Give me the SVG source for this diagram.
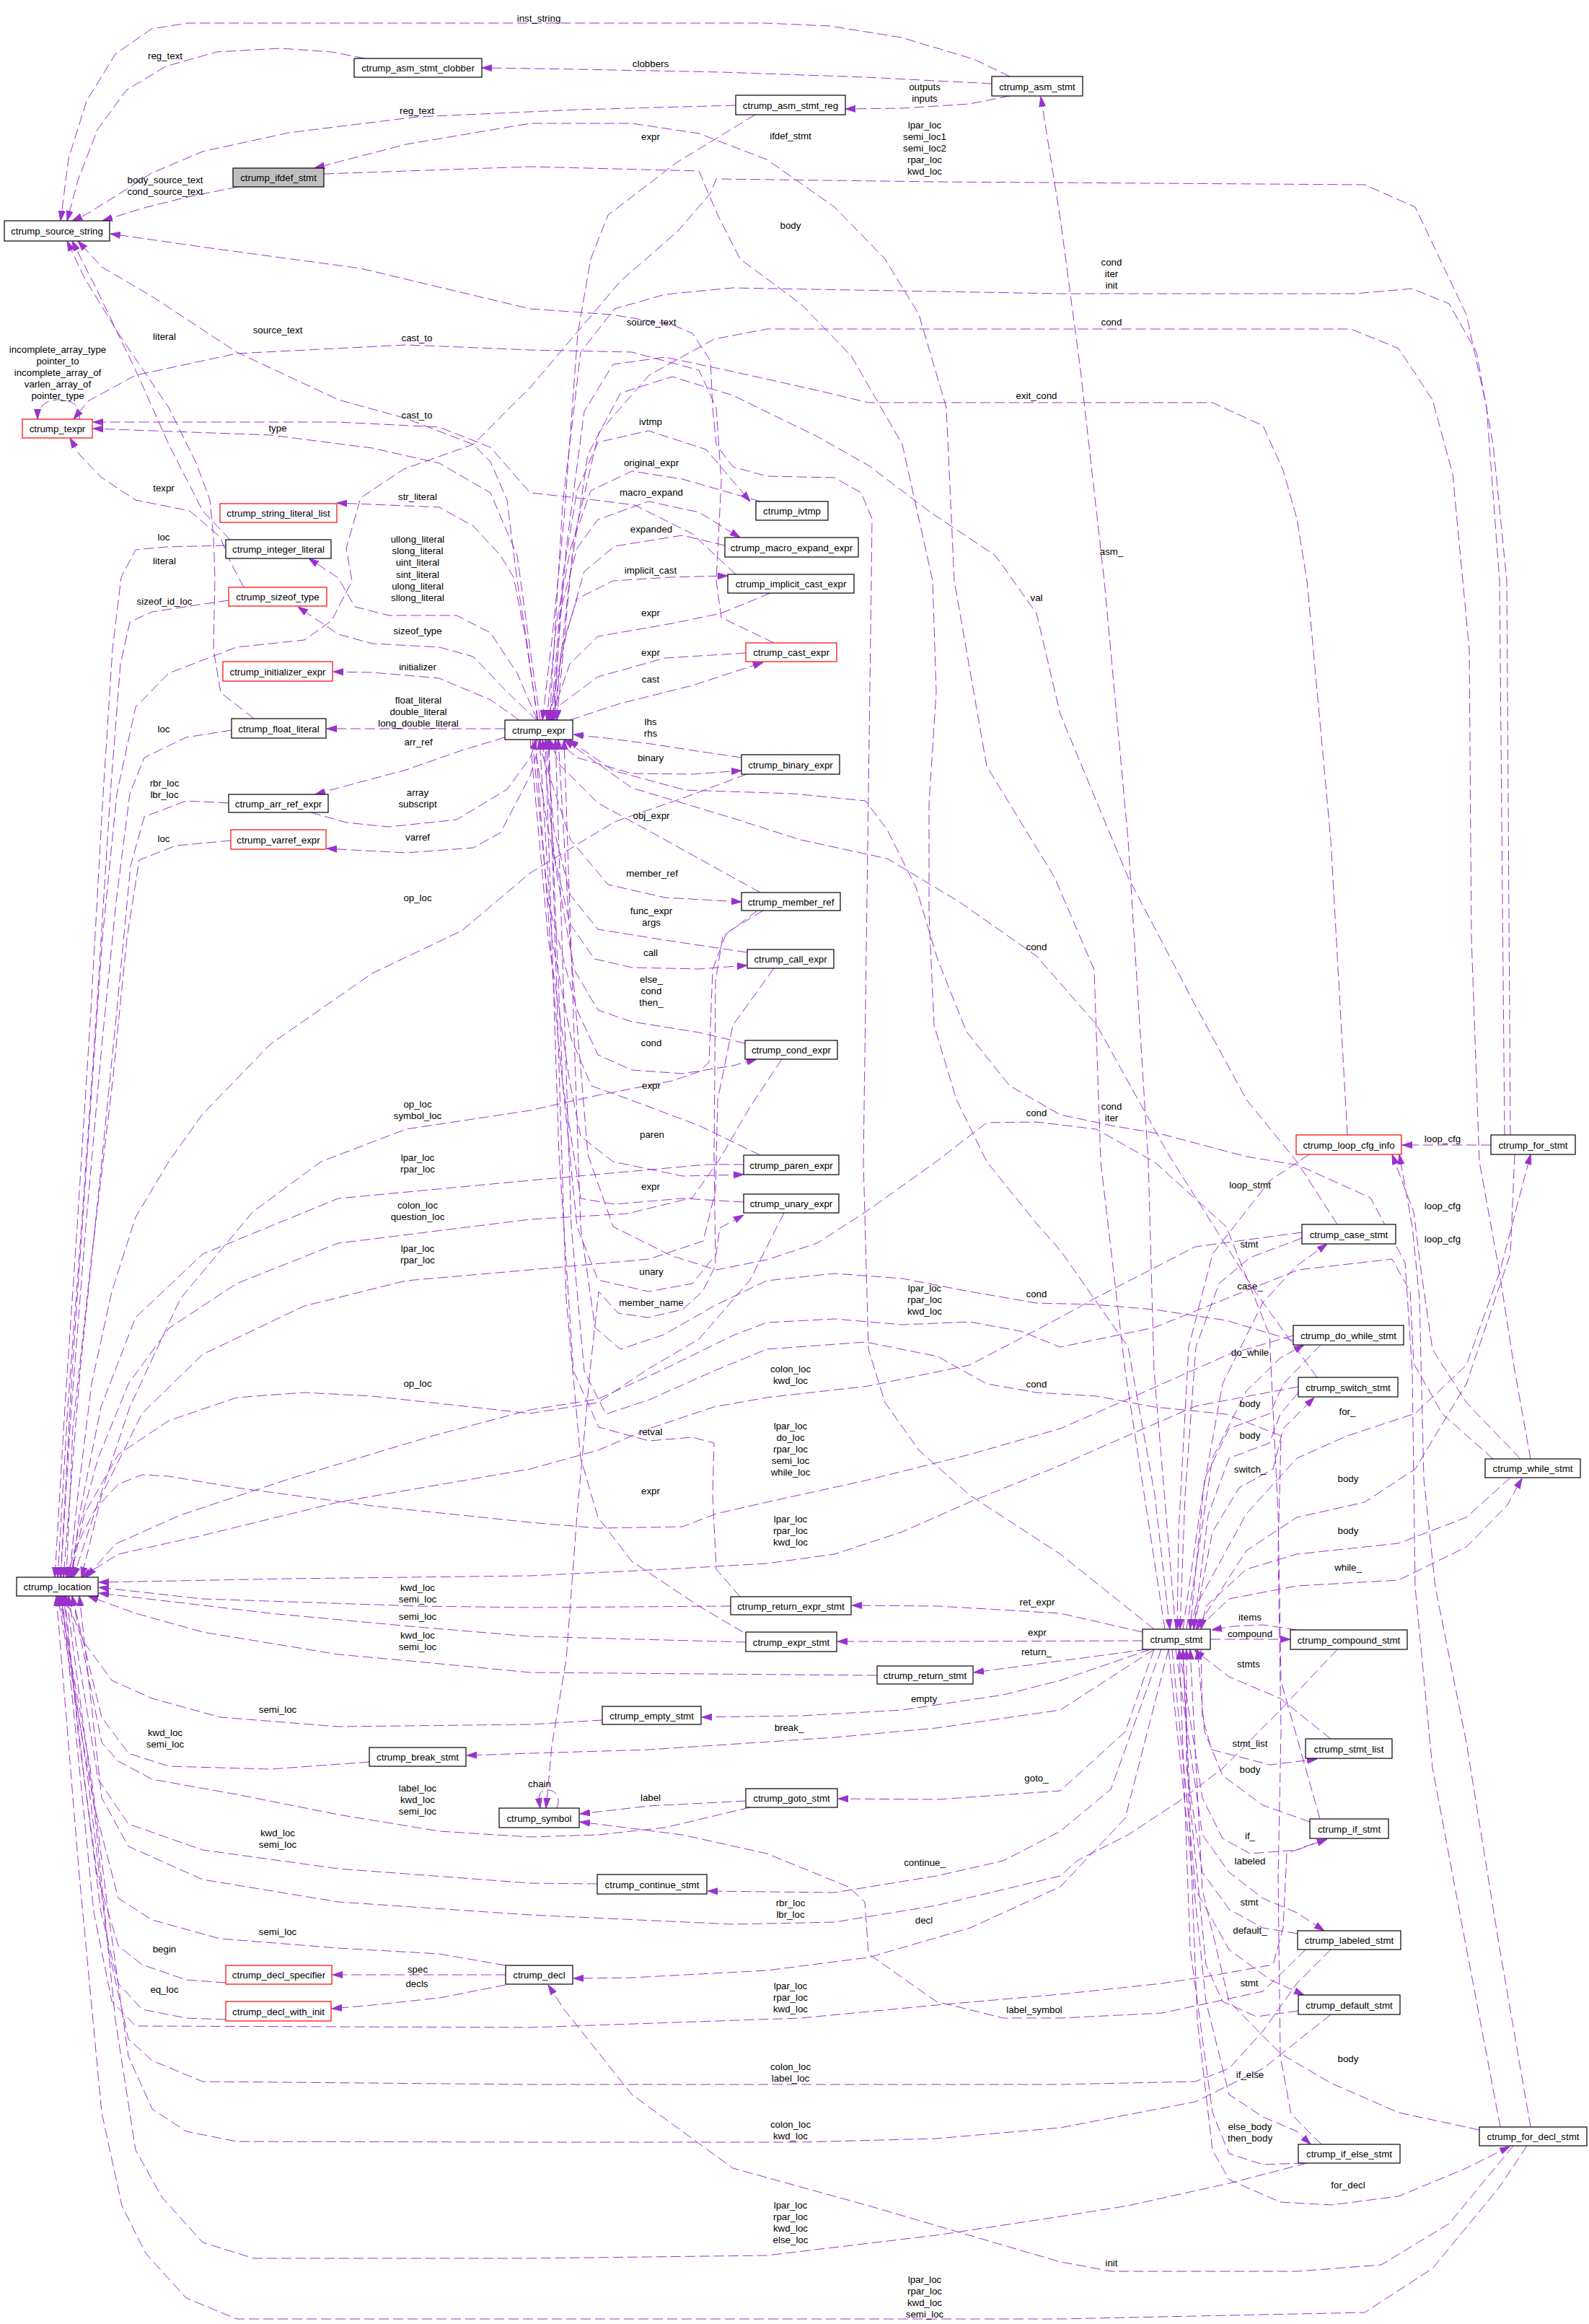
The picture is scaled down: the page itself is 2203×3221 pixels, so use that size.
<svg xmlns="http://www.w3.org/2000/svg" width="2203" height="3221" viewBox="0 0 2203 3221">
<style>
text{font-family:"Liberation Sans",Arial,Helvetica,sans-serif;font-size:13.3px;fill:#000;text-anchor:middle}
.node rect{fill:#fff;stroke:#000;stroke-width:1.2}
.node.red rect{stroke:#f00}
.node.cur rect{fill:#bfbfbf}
.edge path{fill:none;stroke:#9a32cd;stroke-width:1;stroke-dasharray:14,6;stroke-linejoin:round;marker-end:url(#ah)}
</style>
<defs>
<marker id="ah" markerWidth="14" markerHeight="10" refX="14" refY="5" orient="auto" markerUnits="userSpaceOnUse"><path d="M0,0.5 L14,5 L0,9.5 z" fill="#9a32cd" stroke="#9a32cd" stroke-width="1"/></marker>
</defs>
<rect x="0" y="0" width="2203" height="3221" fill="#fff"/>
<g id="edges">
<g class="edge" id="e_asm_inst_string"><path d="M1400,106 L1350,82 L1250,52 L1150,36 L1060,32 L260,32 L210,40 L160,75 L120,140 L95,220 L84,306"/><text x="747" y="30">inst_string</text></g>
<g class="edge" id="e_asm_clobbers"><path d="M1375,116 L1200,107 L1000,100 L800,96 L668,94"/><text x="902" y="93">clobbers</text></g>
<g class="edge" id="e_asm_reg"><path d="M1400,133 L1344,144 L1251,150 L1172,151"/><text x="1282" y="125">outputs<tspan x="1282" dy="15.7">inputs</tspan></text></g>
<g class="edge" id="e_reg_regtext"><path d="M1020,146 L800,152 L578,162 L400,184 L281,210 L210,240 L160,272 L118,298 L100,306"/><text x="578" y="158">reg_text</text></g>
<g class="edge" id="e_clobber_regtext"><path d="M506,81 L460,72 L389,67 L300,72 L230,92 L175,125 L135,180 L108,250 L93,306"/><text x="229" y="82">reg_text</text></g>
<g class="edge" id="e_ifdef_src"><path d="M330,259 L260,273 L200,288 L142,306"/><text x="229" y="254">body_source_text<tspan x="229" dy="15.7">cond_source_text</tspan></text></g>
<g class="edge" id="e_expr_src"><path d="M745,998 L732,900 L717,805 L703,693 L680,640 L656,616 L563,580 L469,554 L328,488 L211,411 L141,370 L108,334"/><text x="385" y="462">source_text</text></g>
<g class="edge" id="e_float_literal_src"><path d="M352,996 L306,960 L296,900 L298,800 L296,744 L291,693 L272,642 L234,565 L164,462 L117,385 L93,334"/><text x="228" y="782">literal</text></g>
<g class="edge" id="e_int_literal_src"><path d="M319,748 L281,708 L234,616 L188,513 L131,395 L100,334"/><text x="228" y="471">literal</text></g>
<g class="edge" id="e_sizeof_texpr"><path d="M338,814 L320,780 L305,744 L263,708 L188,693 L141,662 L110,630 L97,607"/><text x="227" y="681">texpr</text></g>
<g class="edge" id="e_cast_castto"><path d="M1073,891 L1000,856 L993,805 L1000,667 L993,565 L969,513 L876,488 L735,485 L563,478 L328,490 L188,520 L122,556 L102,581"/><text x="578" y="473">cast_to</text></g>
<g class="edge" id="e_icast_castto"><path d="M1020,796 L960,740 L880,700 L800,690 L735,683 L680,620 L609,592 L469,585 L300,585 L129,585"/><text x="578" y="580">cast_to</text></g>
<g class="edge" id="e_expr_type"><path d="M749,998 L735,900 L717,770 L680,683 L609,642 L516,621 L375,603 L129,594"/><text x="385" y="598">type</text></g>
<g class="edge" id="e_texpr_self"><path d="M110,581 C113,560 96,553 79,554 C61,555 52,566 52,581"/><text x="80" y="489">incomplete_array_type<tspan x="80" dy="15.9">pointer_to</tspan><tspan x="80" dy="15.9">incomplete_array_of</tspan><tspan x="80" dy="15.9">varlen_array_of</tspan><tspan x="80" dy="15.9">pointer_type</tspan></text></g>
<g class="edge" id="e_expr_strlit"><path d="M746,998 L728,880 L712,800 L694,770 L656,729 L609,703 L467,697"/><text x="579" y="693">str_literal</text></g>
<g class="edge" id="e_expr_intlit"><path d="M745,998 L717,933 L680,877 L633,853 L539,853 L492,841 L469,801 L428,774"/><text x="579" y="752">ullong_literal<tspan x="579" dy="16.2">slong_literal</tspan><tspan x="579" dy="16.2">uint_literal</tspan><tspan x="579" dy="16.2">sint_literal</tspan><tspan x="579" dy="16.2">ulong_literal</tspan><tspan x="579" dy="16.2">sllong_literal</tspan></text></g>
<g class="edge" id="e_intlit_loc"><path d="M313,756 L230,758 L188,762 L168,800 L156,900 L143,1100 L126,1400 L107,1700 L90,1950 L76,2186"/><text x="227" y="749">loc</text></g>
<g class="edge" id="e_sizeof_loc"><path d="M317,832 L250,842 L211,848 L180,862 L167,920 L153,1100 L134,1400 L113,1700 L94,1950 L80,2186"/><text x="228" y="838">sizeof_id_loc</text></g>
<g class="edge" id="e_expr_sizeof"><path d="M744,998 L703,959 L656,910 L609,897 L516,892 L469,879 L413,841"/><text x="579" y="879">sizeof_type</text></g>
<g class="edge" id="e_expr_init"><path d="M720,998 L680,970 L609,940 L516,932 L462,931"/><text x="579" y="929">initializer</text></g>
<g class="edge" id="e_expr_float"><path d="M700,1010 L453,1010"/><text x="580" y="975">float_literal<tspan x="580" dy="16">double_literal</tspan><tspan x="580" dy="16">long_double_literal</tspan></text></g>
<g class="edge" id="e_float_loc"><path d="M321,1012 L258,1022 L200,1050 L180,1100 L161,1250 L141,1450 L119,1700 L99,1950 L84,2186"/><text x="227" y="1015">loc</text></g>
<g class="edge" id="e_expr_arrref"><path d="M700,1022 L640,1040 L563,1067 L469,1092 L437,1101"/><text x="580" y="1033">arr_ref</text></g>
<g class="edge" id="e_arrref_expr"><path d="M431,1126 L480,1140 L539,1146 L633,1136 L703,1094 L735,1050 L744,1025"/><text x="579" y="1103">array<tspan x="579" dy="15.7">subscript</tspan></text></g>
<g class="edge" id="e_arrref_loc"><path d="M317,1113 L258,1110 L200,1132 L181,1200 L162,1400 L137,1650 L111,1900 L88,2186"/><text x="228" y="1090">rbr_loc<tspan x="228" dy="15.7">lbr_loc</tspan></text></g>
<g class="edge" id="e_expr_varref"><path d="M750,1025 L735,1075 L694,1154 L656,1175 L563,1182 L453,1176"/><text x="579" y="1165">varref</text></g>
<g class="edge" id="e_varref_loc"><path d="M320,1165 L244,1172 L193,1192 L176,1300 L156,1500 L126,1750 L101,1980 L92,2186"/><text x="227" y="1167">loc</text></g>
<g class="edge" id="e_binary_expr"><path d="M1028,1050 L960,1040 L902,1031 L840,1023 L795,1018"/><text x="902" y="1005">lhs<tspan x="902" dy="15.7">rhs</tspan></text></g>
<g class="edge" id="e_expr_binary"><path d="M770,1025 L800,1050 L876,1072 L960,1073 L1028,1068"/><text x="902" y="1055">binary</text></g>
<g class="edge" id="e_binary_loc"><path d="M1035,1073 L950,1105 L852,1139 L735,1210 L640,1290 L516,1349 L375,1447 L281,1544 L234,1610 L188,1687 L155,1790 L127,1918 L108,2072 L96,2186"/><text x="579" y="1249">op_loc</text></g>
<g class="edge" id="e_cast_expr"><path d="M1034,905 L922,912 L829,938 L775,978 L764,998"/><text x="902" y="909">expr</text></g>
<g class="edge" id="e_expr_cast"><path d="M790,998 L860,975 L960,950 L1058,918"/><text x="902" y="946">cast</text></g>
<g class="edge" id="e_icast_expr"><path d="M1068,822 L1000,850 L932,864 L829,882 L790,920 L763,998"/><text x="902" y="854">expr</text></g>
<g class="edge" id="e_expr_icast"><path d="M770,998 L778,900 L800,830 L850,805 L930,800 L1009,798"/><text x="902" y="795">implicit_cast</text></g>
<g class="edge" id="e_expr_macro"><path d="M764,998 L776,850 L800,760 L829,720 L899,695 L969,710 L1026,745"/><text x="903" y="687">macro_expand</text></g>
<g class="edge" id="e_macro_expr"><path d="M1005,756 L946,742 L852,757 L810,792 L785,880 L760,998"/><text x="903" y="738">expanded</text></g>
<g class="edge" id="e_expr_ivtmp"><path d="M768,998 L780,800 L800,680 L829,613 L899,597 L979,623 L1040,695"/><text x="902" y="589">ivtmp</text></g>
<g class="edge" id="e_ivtmp_expr"><path d="M1054,695 L946,664 L876,653 L819,680 L791,760 L772,860 L758,998"/><text x="903" y="646">original_expr</text></g>
<g class="edge" id="e_reg_expr"><path d="M1047,159 L937,226 L843,298 L819,359 L801,462 L782,719 L766,880 L752,998"/><text x="902" y="194">expr</text></g>
<g class="edge" id="e_expr_member"><path d="M745,1025 L770,1100 L791,1164 L843,1226 L922,1244 L1028,1250"/><text x="904" y="1215">member_ref</text></g>
<g class="edge" id="e_member_expr"><path d="M1054,1237 L922,1164 L829,1113 L776,1060 L762,1025"/><text x="903" y="1135">obj_expr</text></g>
<g class="edge" id="e_call_expr"><path d="M1036,1320 L922,1303 L829,1288 L791,1241 L768,1150 L757,1025"/><text x="903" y="1267">func_expr<tspan x="903" dy="15.7">args</tspan></text></g>
<g class="edge" id="e_expr_call"><path d="M740,1025 L760,1150 L790,1280 L824,1329 L876,1341 L969,1343 L1036,1338"/><text x="902" y="1325">call</text></g>
<g class="edge" id="e_condx_expr"><path d="M1033,1446 L969,1431 L876,1416 L829,1400 L796,1344 L770,1200 L752,1025"/><text x="903" y="1362">else_<tspan x="903" dy="15.9">cond</tspan><tspan x="903" dy="15.9">then_</tspan></text></g>
<g class="edge" id="e_expr_condx"><path d="M738,1025 L760,1250 L800,1400 L829,1462 L876,1483 L946,1488 L1016,1477 L1049,1468"/><text x="903" y="1450">cond</text></g>
<g class="edge" id="e_member_loc"><path d="M1058,1262 L1007,1293 L988,1344 L983,1472 L970,1485 L932,1498 L829,1518 L735,1539 L563,1565 L445,1610 L350,1680 L250,1800 L180,1950 L130,2100 L102,2186"/><text x="579" y="1535">op_loc<tspan x="579" dy="15.7">symbol_loc</tspan></text></g>
<g class="edge" id="e_condx_loc"><path d="M1084,1468 L1040,1534 L998,1606 L960,1660 L870,1682 L735,1690 L469,1723 L328,1779 L234,1841 L178,1918 L136,2021 L108,2123 L98,2186"/><text x="579" y="1675">colon_loc<tspan x="579" dy="15.7">question_loc</tspan></text></g>
<g class="edge" id="e_paren_expr"><path d="M1054,1601 L969,1560 L876,1525 L820,1505 L792,1440 L765,1300 L748,1025"/><text x="903" y="1509">expr</text></g>
<g class="edge" id="e_expr_paren"><path d="M735,1025 L760,1300 L790,1500 L805,1575 L850,1610 L946,1630 L1031,1628"/><text x="904" y="1577">paren</text></g>
<g class="edge" id="e_paren_loc"><path d="M1031,1614 L980,1614 L735,1636 L469,1661 L281,1738 L188,1826 L140,1950 L110,2100 L100,2186"/><text x="579" y="1609">lpar_loc<tspan x="579" dy="15.7">rpar_loc</tspan></text></g>
<g class="edge" id="e_call_loc"><path d="M1073,1342 L1016,1421 L995,1524 L992,1650 L975,1720 L900,1745 L735,1760 L563,1775 L422,1810 L281,1877 L197,1959 L141,2072 L113,2186"/><text x="579" y="1735">lpar_loc<tspan x="579" dy="15.7">rpar_loc</tspan></text></g>
<g class="edge" id="e_unary_expr"><path d="M1031,1666 L946,1661 L852,1669 L805,1661 L780,1500 L760,1025"/><text x="902" y="1649">expr</text></g>
<g class="edge" id="e_expr_unary"><path d="M742,1025 L770,1400 L800,1700 L829,1774 L899,1790 L960,1779 L993,1738 L998,1702 L1031,1684"/><text x="903" y="1767">unary</text></g>
<g class="edge" id="e_unary_loc"><path d="M1087,1681 L1040,1774 L969,1856 L899,1897 L829,1944 L735,1959 L516,1935 L422,1930 L328,1937 L234,1969 L164,2016 L117,2098 L98,2186"/><text x="579" y="1922">op_loc</text></g>
<g class="edge" id="e_member_symbol"><path d="M1050,1262 L1002,1298 L992,1360 L990,1600 L992,1754 L974,1790 L946,1815 L899,1826 L857,1820 L830,1790 L818,1900 L800,2100 L785,2300 L765,2420 L757,2506"/><text x="903" y="1810">member_name</text></g>
<g class="edge" id="e_retexpr_expr"><path d="M1026,2213 L993,2175 L988,2072 L990,2000 L960,1992 L900,1997 L830,1978 L795,1900 L775,1600 L756,1025"/><text x="902" y="1989">retval</text></g>
<g class="edge" id="e_exprstmt_expr"><path d="M1030,2262 L969,2226 L876,2164 L829,2103 L805,2021 L785,1800 L761,1025"/><text x="902" y="2071">expr</text></g>
<g class="edge" id="e_stmt_asm"><path d="M1630,2258 L1600,1900 L1592,1610 L1564,1164 L1531,805 L1498,513 L1470,303 L1443,134"/><text x="1541" y="769">asm_</text></g>
<g class="edge" id="e_stmt_ifdef"><path d="M1615,2258 L1560,1900 L1526,1610 L1517,1344 L1462,1216 L1368,1062 L1323,805 L1312,565 L1274,436 L1227,359 L1157,287 L1063,221 L969,185 L876,171 L735,171 L563,200 L436,233"/><text x="1096" y="193">ifdef_stmt</text></g>
<g class="edge" id="e_ifdef_body"><path d="M449,241 L735,231 L969,237 L995,298 L1026,359 L1110,421 L1180,493 L1251,616 L1293,805 L1298,959 L1288,1113 L1288,1267 L1295,1421 L1326,1524 L1368,1610 L1438,1697 L1470,1733 L1564,1867 L1601,2072 L1622,2258"/><text x="1096" y="317">body</text></g>
<g class="edge" id="e_for_loc"><path d="M2086,1573 L2079,805 L2061,565 L2033,436 L1962,287 L1892,256 L1300,252 L993,248 L985,268 L940,320 L860,390 L735,537 L656,616 L560,650 L500,690 L480,760 L488,805 L460,860 L422,887 L328,897 L234,933 L188,980 L162,1100 L142,1300 L121,1600 L100,1900 L84,2186"/><text x="1282" y="178">lpar_loc<tspan x="1282" dy="16">semi_loc1</tspan><tspan x="1282" dy="16">semi_loc2</tspan><tspan x="1282" dy="16">rpar_loc</tspan><tspan x="1282" dy="16">kwd_loc</tspan></text></g>
<g class="edge" id="e_for_expr"><path d="M2094,1573 L2089,805 L2070,616 L2047,488 L2009,421 L1958,400 L1878,407 L1470,407 L1016,399 L922,408 L852,428 L805,488 L780,700 L762,998"/><text x="1541" y="368">cond<tspan x="1541" dy="16">iter</tspan><tspan x="1541" dy="16">init</tspan></text></g>
<g class="edge" id="e_for_loopcfg"><path d="M2067,1587 L1944,1587"/><text x="2000" y="1583">loop_cfg</text></g>
<g class="edge" id="e_stmt_for"><path d="M1650,2258 L1658,2226 L1728,2098 L1798,2021 L1868,1990 L1962,1959 L2033,1892 L2079,1764 L2122,1600"/><text x="1868" y="1961">for_</text></g>
<g class="edge" id="e_for_body"><path d="M2100,1600 L2094,1738 L2033,1918 L1962,2036 L1892,2082 L1798,2103 L1728,2149 L1658,2258"/><text x="1869" y="2054">body</text></g>
<g class="edge" id="e_while_cond"><path d="M2122,2022 L2100,1900 L2079,1764 L2051,1610 L2040,1300 L2037,900 L2014,657 L1986,554 L1939,483 L1873,456 L1063,456 L990,470 L900,520 L830,600 L795,750 L772,998"/><text x="1541" y="451">cond</text></g>
<g class="edge" id="e_stmt_src"><path d="M1600,2258 L1470,2154 L1344,2072 L1274,2010 L1227,1944 L1204,1870 L1197,1610 L1208,805 L1209,719 L1194,683 L1157,662 L1063,660 L1016,647 L993,616 L988,565 L985,500 L960,462 L932,450 L848,436 L735,428 L500,372 L300,345 L153,324"/><text x="903" y="451">source_text</text></g>
<g class="edge" id="e_loopcfg_exit"><path d="M1868,1573 L1845,1164 L1812,805 L1798,719 L1779,652 L1751,590 L1681,558 L1204,558 L1133,541 L1016,515 L922,495 L850,505 L810,570 L785,760 L766,998"/><text x="1437" y="553">exit_cond</text></g>
<g class="edge" id="e_loopcfg_stmt"><path d="M1815,1600 L1761,1636 L1681,1738 L1648,1867 L1634,2123 L1632,2258"/><text x="1733" y="1647">loop_stmt</text></g>
<g class="edge" id="e_while_loopcfg"><path d="M2108,2022 L2033,1944 L1986,1870 L1970,1760 L1960,1680 L1930,1600"/><text x="2000" y="1676">loop_cfg</text></g>
<g class="edge" id="e_fordecl_loopcfg"><path d="M2122,2948 L2079,2700 L2033,2415 L1990,2200 L1974,2050 L1968,1800 L1958,1700 L1940,1600"/><text x="2000" y="1722">loop_cfg</text></g>
<g class="edge" id="e_case_val"><path d="M1854,1697 L1798,1610 L1728,1524 L1658,1395 L1564,1216 L1470,990 L1437,850 L1380,770 L1290,710 L1204,645 L1133,605 L1016,548 L932,522 L860,545 L815,630 L790,800 L768,998"/><text x="1437" y="833">val</text></g>
<g class="edge" id="e_stmt_case"><path d="M1640,2258 L1667,2072 L1695,1918 L1751,1805 L1798,1754 L1840,1724"/><text x="1733" y="1787">case_</text></g>
<g class="edge" id="e_case_stmt"><path d="M1805,1716 L1733,1743 L1690,1779 L1658,1867 L1643,2072 L1636,2258"/><text x="1732" y="1729">stmt</text></g>
<g class="edge" id="e_case_loc"><path d="M1805,1708 L1657,1728 L1517,1800 L1470,1826 L1344,1892 L1204,1921 L1063,1937 L990,1950 L900,1980 L829,2010 L735,2036 L469,2082 L281,2128 L164,2154 L113,2186"/><text x="1096" y="1902">colon_loc<tspan x="1096" dy="15.7">kwd_loc</tspan></text></g>
<g class="edge" id="e_stmt_dowhile"><path d="M1645,2258 L1681,2021 L1728,1928 L1775,1882 L1808,1864"/><text x="1733" y="1879">do_while</text></g>
<g class="edge" id="e_dowhile_body"><path d="M1831,1864 L1779,1918 L1761,1959 L1704,1980 L1670,2050 L1650,2258"/><text x="1733" y="1950">body</text></g>
<g class="edge" id="e_dowhile_loc"><path d="M1793,1851 L1704,1877 L1564,1939 L1470,1980 L1344,2016 L1204,2051 L1063,2082 L993,2098 L946,2116 L829,2118 L735,2110 L516,2087 L328,2062 L234,2046 L197,2044 L164,2057 L131,2093 L103,2149 L94,2186"/><text x="1096" y="1981">lpar_loc<tspan x="1096" dy="16">do_loc</tspan><tspan x="1096" dy="16">rpar_loc</tspan><tspan x="1096" dy="16">semi_loc</tspan><tspan x="1096" dy="16">while_loc</tspan></text></g>
<g class="edge" id="e_switch_cond"><path d="M1826,1909 L1740,1790 L1620,1600 L1520,1420 L1437,1325 L1330,1250 L1230,1190 L1110,1164 L1016,1134 L876,1092 L782,1025"/><text x="1437" y="1317">cond</text></g>
<g class="edge" id="e_if_cond"><path d="M1830,2521 L1776,2330 L1772,2100 L1760,1850 L1700,1700 L1600,1610 L1520,1565 L1437,1555 L1368,1556 L1298,1610 L1204,1677 L1133,1723 L1063,1746 L993,1760 L930,1740 L850,1700 L815,1600 L790,1300 L774,1025"/><text x="1437" y="1547">cond</text></g>
<g class="edge" id="e_dowhile_cond"><path d="M1793,1858 L1700,1830 L1600,1815 L1517,1808 L1437,1806 L1344,1790 L1251,1772 L1157,1765 L1063,1775 L990,1810 L920,1850 L860,1870 L825,1840 L805,1700 L782,1025"/><text x="1437" y="1798">cond</text></g>
<g class="edge" id="e_ifelse_cond"><path d="M1832,2972 L1790,2930 L1775,2850 L1772,2600 L1776,2400 L1772,2150 L1776,1990 L1700,1960 L1600,1950 L1520,1935 L1437,1930 L1368,1918 L1300,1880 L1200,1860 L1063,1870 L990,1900 L900,1940 L840,1960 L810,1900 L792,1700 L770,1025"/><text x="1437" y="1923">cond</text></g>
<g class="edge" id="e_fordecl_cond"><path d="M2080,2948 L2033,2700 L1986,2450 L1962,2200 L1958,1900 L1948,1750 L1900,1660 L1800,1615 L1728,1603 L1611,1572 L1541,1560 L1470,1545 L1400,1505 L1340,1430 L1300,1330 L1270,1230 L1230,1150 L1200,1110 L1100,1100 L950,1095 L850,1068 L788,1025"/><text x="1541" y="1538">cond<tspan x="1541" dy="15.7">iter</tspan></text></g>
<g class="edge" id="e_stmt_switch"><path d="M1655,2258 L1681,2123 L1718,2062 L1765,2036 L1779,1980 L1822,1937"/><text x="1733" y="2041">switch_</text></g>
<g class="edge" id="e_switch_body"><path d="M1800,1930 L1775,1960 L1760,2000 L1704,2021 L1675,2100 L1655,2258"/><text x="1733" y="1994">body</text></g>
<g class="edge" id="e_switch_loc"><path d="M1800,1922 L1657,1949 L1517,2010 L1470,2031 L1344,2082 L1251,2123 L1157,2154 L1063,2167 L922,2175 L735,2184 L400,2188 L137,2193"/><text x="1096" y="2110">lpar_loc<tspan x="1096" dy="16">rpar_loc</tspan><tspan x="1096" dy="16">kwd_loc</tspan></text></g>
<g class="edge" id="e_stmt_while"><path d="M1660,2258 L1704,2216 L1798,2198 L1939,2190 L2033,2144 L2089,2087 L2110,2049"/><text x="1869" y="2177">while_</text></g>
<g class="edge" id="e_while_body"><path d="M2094,2048 L2033,2103 L1939,2139 L1798,2154 L1728,2175 L1672,2226 L1665,2258"/><text x="1869" y="2126">body</text></g>
<g class="edge" id="e_while_loc"><path d="M2070,2022 L2000,1960 L1960,1890 L1955,1790 L1930,1745 L1800,1760 L1700,1800 L1600,1840 L1470,1867 L1415,1845 L1344,1832 L1251,1836 L1157,1828 L1063,1833 L1016,1851 L922,1897 L829,1939 L735,1954 L600,1990 L400,2050 L250,2100 L160,2140 L120,2186"/><text x="1282" y="1790">lpar_loc<tspan x="1282" dy="16">rpar_loc</tspan><tspan x="1282" dy="16">kwd_loc</tspan></text></g>
<g class="edge" id="e_stmt_compound"><path d="M1678,2272 L1789,2272"/><text x="1733" y="2269">compound</text></g>
<g class="edge" id="e_compound_items"><path d="M1798,2259 L1751,2252 L1710,2254 L1680,2259"/><text x="1733" y="2246">items</text></g>
<g class="edge" id="e_stmtlist_stmts"><path d="M1845,2410 L1775,2354 L1704,2324 L1656,2287"/><text x="1731" y="2311">stmts</text></g>
<g class="edge" id="e_stmt_stmtlist"><path d="M1665,2286 L1667,2380 L1680,2425 L1761,2446 L1826,2438"/><text x="1733" y="2421">stmt_list</text></g>
<g class="edge" id="e_compound_loc"><path d="M1854,2286 L1775,2370 L1695,2451 L1634,2497 L1564,2543 L1493,2579 L1470,2600 L1298,2641 L1157,2664 L1016,2667 L735,2654 L469,2636 L281,2605 L178,2559 L141,2492 L110,2212"/><text x="1096" y="2642">rbr_loc<tspan x="1096" dy="15.7">lbr_loc</tspan></text></g>
<g class="edge" id="e_stmt_goto"><path d="M1600,2286 L1560,2400 L1470,2482 L1300,2494 L1162,2493"/><text x="1437" y="2469">goto_</text></g>
<g class="edge" id="e_goto_label"><path d="M1034,2496 L900,2503 L804,2514"/><text x="902" y="2496">label</text></g>
<g class="edge" id="e_goto_loc"><path d="M1040,2505 L922,2533 L829,2543 L735,2546 L609,2538 L469,2515 L328,2487 L211,2466 L164,2441 L141,2415 L100,2212"/><text x="579" y="2483">label_loc<tspan x="579" dy="16">kwd_loc</tspan><tspan x="579" dy="16">semi_loc</tspan></text></g>
<g class="edge" id="e_stmt_continue"><path d="M1610,2286 L1540,2480 L1470,2538 L1391,2579 L1298,2600 L1157,2623 L981,2621"/><text x="1282" y="2586">continue_</text></g>
<g class="edge" id="e_continue_loc"><path d="M828,2611 L735,2610 L469,2590 L281,2564 L178,2528 L136,2466 L95,2212"/><text x="385" y="2545">kwd_loc<tspan x="385" dy="15.7">semi_loc</tspan></text></g>
<g class="edge" id="e_stmt_decl"><path d="M1620,2286 L1560,2520 L1470,2615 L1345,2672 L1204,2713 L1063,2731 L876,2741 L795,2742"/><text x="1281" y="2666">decl</text></g>
<g class="edge" id="e_decl_loc"><path d="M701,2724 L609,2708 L469,2700 L305,2687 L211,2661 L164,2631 L130,2500 L92,2212"/><text x="385" y="2682">semi_loc</text></g>
<g class="edge" id="e_decl_spec"><path d="M701,2737 L461,2737"/><text x="579" y="2734">spec</text></g>
<g class="edge" id="e_decl_decls"><path d="M701,2751 L609,2769 L516,2779 L460,2784"/><text x="578" y="2754">decls</text></g>
<g class="edge" id="e_spec_loc"><path d="M313,2748 L258,2744 L197,2723 L164,2697 L135,2600 L108,2400 L90,2212"/><text x="228" y="2706">begin</text></g>
<g class="edge" id="e_dwi_loc"><path d="M313,2799 L258,2797 L197,2785 L164,2749 L140,2650 L115,2450 L88,2212"/><text x="228" y="2762">eq_loc</text></g>
<g class="edge" id="e_if_loc"><path d="M1840,2548 L1784,2569 L1779,2672 L1765,2723 L1681,2738 L1611,2749 L1470,2764 L1298,2779 L1110,2797 L735,2810 L188,2808 L155,2774 L130,2650 L110,2450 L86,2212"/><text x="1096" y="2757">lpar_loc<tspan x="1096" dy="16">rpar_loc</tspan><tspan x="1096" dy="16">kwd_loc</tspan></text></g>
<g class="edge" id="e_labeled_loc"><path d="M1845,2702 L1798,2749 L1751,2815 L1704,2867 L1657,2885 L1470,2889 L735,2889 L281,2885 L211,2856 L178,2826 L150,2700 L120,2450 L84,2212"/><text x="1096" y="2869">colon_loc<tspan x="1096" dy="16">label_loc</tspan></text></g>
<g class="edge" id="e_default_loc"><path d="M1845,2792 L1751,2867 L1657,2913 L1470,2949 L1298,2964 L1110,2969 L735,2969 L328,2968 L258,2954 L211,2923 L178,2850 L150,2650 L125,2450 L82,2212"/><text x="1096" y="2949">colon_loc<tspan x="1096" dy="16">kwd_loc</tspan></text></g>
<g class="edge" id="e_ifelse_loc"><path d="M1812,2998 L1704,3026 L1564,3057 L1470,3072 L1298,3098 L1063,3126 L735,3130 L352,3130 L281,3108 L225,3046 L188,2980 L160,2800 L130,2500 L80,2212"/><text x="1096" y="3061">lpar_loc<tspan x="1096" dy="16">rpar_loc</tspan><tspan x="1096" dy="16">kwd_loc</tspan><tspan x="1096" dy="16">else_loc</tspan></text></g>
<g class="edge" id="e_fordecl_loc"><path d="M2117,2974 L2079,3031 L1986,3144 L1892,3205 L1470,3214 L735,3214 L328,3214 L258,3185 L202,3123 L169,3057 L141,2928 L110,2600 L78,2212"/><text x="1282" y="3164">lpar_loc<tspan x="1282" dy="16">rpar_loc</tspan><tspan x="1282" dy="16">kwd_loc</tspan><tspan x="1282" dy="16">semi_loc</tspan></text></g>
<g class="edge" id="e_fordecl_init"><path d="M2098,2974 L2009,3082 L1915,3139 L1798,3148 L1540,3148 L1493,3139 L1470,3135 L1204,3057 L1016,3005 L876,2903 L782,2785 L760,2751"/><text x="1541" y="3141">init</text></g>
<g class="edge" id="e_stmt_fordecl"><path d="M1640,2286 L1660,2800 L1681,2980 L1704,3021 L1775,3052 L1845,3056 L1939,3044 L2033,3005 L2093,2975"/><text x="1869" y="3033">for_decl</text></g>
<g class="edge" id="e_fordecl_body"><path d="M2051,2952 L1939,2928 L1845,2887 L1775,2846 L1704,2774 L1667,2620 L1650,2286"/><text x="1869" y="2858">body</text></g>
<g class="edge" id="e_stmt_if"><path d="M1635,2286 L1667,2492 L1695,2548 L1733,2569 L1798,2564 L1840,2549"/><text x="1733" y="2549">if_</text></g>
<g class="edge" id="e_if_body"><path d="M1816,2525 L1751,2502 L1695,2461 L1670,2400 L1660,2286"/><text x="1733" y="2457">body</text></g>
<g class="edge" id="e_stmt_labeled"><path d="M1630,2286 L1667,2543 L1704,2595 L1751,2631 L1798,2651 L1836,2676"/><text x="1733" y="2584">labeled</text></g>
<g class="edge" id="e_labeled_stmt"><path d="M1799,2680 L1751,2672 L1704,2646 L1667,2595 L1645,2450 L1645,2286"/><text x="1732" y="2641">stmt</text></g>
<g class="edge" id="e_stmt_default"><path d="M1625,2286 L1658,2620 L1704,2702 L1761,2744 L1808,2765"/><text x="1733" y="2680">default_</text></g>
<g class="edge" id="e_default_stmt"><path d="M1800,2787 L1742,2795 L1695,2774 L1672,2723 L1650,2500 L1640,2286"/><text x="1732" y="2753">stmt</text></g>
<g class="edge" id="e_labeled_symbol"><path d="M1810,2702 L1751,2760 L1611,2790 L1470,2797 L1391,2797 L1298,2774 L1204,2708 L1199,2636 L1176,2615 L1063,2569 L946,2543 L804,2525"/><text x="1434" y="2790">label_symbol</text></g>
<g class="edge" id="e_stmt_ifelse"><path d="M1620,2286 L1672,2774 L1704,2903 L1751,2934 L1798,2954 L1817,2972"/><text x="1733" y="2880">if_else</text></g>
<g class="edge" id="e_ifelse_body"><path d="M1808,2998 L1751,3000 L1704,2985 L1681,2928 L1650,2700 L1635,2286"/><text x="1733" y="2952">else_body<tspan x="1733" dy="16">then_body</tspan></text></g>
<g class="edge" id="e_stmt_retexpr"><path d="M1584,2262 L1470,2236 L1300,2226 L1181,2225"/><text x="1438" y="2225">ret_expr</text></g>
<g class="edge" id="e_stmt_exprstmt"><path d="M1584,2274 L1300,2275 L1161,2275"/><text x="1438" y="2267">expr</text></g>
<g class="edge" id="e_stmt_return"><path d="M1590,2286 L1470,2302 L1350,2318"/><text x="1437" y="2294">return_</text></g>
<g class="edge" id="e_stmt_empty"><path d="M1595,2286 L1470,2329 L1391,2349 L1251,2370 L1110,2378 L973,2380"/><text x="1281" y="2359">empty</text></g>
<g class="edge" id="e_stmt_break"><path d="M1600,2286 L1470,2370 L1298,2395 L1157,2408 L900,2425 L735,2430 L647,2433"/><text x="1094" y="2399">break_</text></g>
<g class="edge" id="e_retexpr_loc"><path d="M1013,2226 L735,2228 L579,2226 L281,2216 L137,2200"/><text x="579" y="2205">kwd_loc<tspan x="579" dy="16">semi_loc</tspan></text></g>
<g class="edge" id="e_exprstmt_loc"><path d="M1034,2276 L735,2268 L579,2255 L375,2236 L137,2208"/><text x="579" y="2245">semi_loc</text></g>
<g class="edge" id="e_return_loc"><path d="M1216,2322 L735,2318 L579,2303 L469,2293 L281,2262 L188,2236 L122,2212"/><text x="579" y="2271">kwd_loc<tspan x="579" dy="16">semi_loc</tspan></text></g>
<g class="edge" id="e_empty_loc"><path d="M835,2384 L735,2390 L469,2393 L305,2380 L211,2354 L155,2329 L117,2277 L89,2212"/><text x="385" y="2374">semi_loc</text></g>
<g class="edge" id="e_break_loc"><path d="M512,2442 L375,2452 L234,2448 L178,2430 L141,2380 L100,2212"/><text x="229" y="2406">kwd_loc<tspan x="229" dy="16">semi_loc</tspan></text></g>
<g class="edge" id="e_symbol_chain"><path d="M772,2506 C778,2490 770,2480 757,2481 C745,2482 747,2494 749,2506"/><text x="748" y="2477">chain</text></g>
</g>
<g id="nodes">
<g class="node" id="ctrump_asm_stmt_clobber"><rect x="491" y="81" width="177" height="26"/><text x="579.5" y="99">ctrump_asm_stmt_clobber</text></g>
<g class="node cur" id="ctrump_ifdef_stmt"><rect x="323" y="233" width="126" height="26"/><text x="386" y="251">ctrump_ifdef_stmt</text></g>
<g class="node" id="ctrump_source_string"><rect x="6" y="306" width="146" height="28"/><text x="79" y="325">ctrump_source_string</text></g>
<g class="node red" id="ctrump_texpr"><rect x="31" y="581" width="97" height="26"/><text x="79.5" y="599">ctrump_texpr</text></g>
<g class="node red" id="ctrump_string_literal_list"><rect x="305" y="698" width="162" height="26"/><text x="386" y="716">ctrump_string_literal_list</text></g>
<g class="node" id="ctrump_integer_literal"><rect x="313" y="748" width="146" height="26"/><text x="386" y="766">ctrump_integer_literal</text></g>
<g class="node" id="ctrump_asm_stmt_reg"><rect x="1020" y="132" width="152" height="27"/><text x="1096" y="150.5">ctrump_asm_stmt_reg</text></g>
<g class="node" id="ctrump_asm_stmt"><rect x="1375" y="106" width="126" height="27"/><text x="1438" y="124.5">ctrump_asm_stmt</text></g>
<g class="node" id="ctrump_ivtmp"><rect x="1048" y="695" width="100" height="26"/><text x="1098" y="713">ctrump_ivtmp</text></g>
<g class="node" id="ctrump_macro_expand_expr"><rect x="1005" y="745" width="185" height="27"/><text x="1097.5" y="763.5">ctrump_macro_expand_expr</text></g>
<g class="node" id="ctrump_implicit_cast_expr"><rect x="1009" y="796" width="175" height="26"/><text x="1096.5" y="814">ctrump_implicit_cast_expr</text></g>
<g class="node red" id="ctrump_sizeof_type"><rect x="317" y="814" width="136" height="26"/><text x="385" y="832">ctrump_sizeof_type</text></g>
<g class="node red" id="ctrump_initializer_expr"><rect x="309" y="917" width="152" height="27"/><text x="385" y="935.5">ctrump_initializer_expr</text></g>
<g class="node" id="ctrump_float_literal"><rect x="321" y="996" width="131" height="27"/><text x="386.5" y="1014.5">ctrump_float_literal</text></g>
<g class="node" id="ctrump_expr"><rect x="700" y="998" width="94" height="27"/><text x="747" y="1016.5">ctrump_expr</text></g>
<g class="node" id="ctrump_arr_ref_expr"><rect x="317" y="1101" width="138" height="25"/><text x="386" y="1118.5">ctrump_arr_ref_expr</text></g>
<g class="node red" id="ctrump_varref_expr"><rect x="320" y="1150" width="132" height="27"/><text x="386" y="1168.5">ctrump_varref_expr</text></g>
<g class="node red" id="ctrump_cast_expr"><rect x="1034" y="891" width="126" height="26"/><text x="1097" y="909">ctrump_cast_expr</text></g>
<g class="node" id="ctrump_binary_expr"><rect x="1028" y="1046" width="136" height="27"/><text x="1096" y="1064.5">ctrump_binary_expr</text></g>
<g class="node" id="ctrump_member_ref"><rect x="1028" y="1237" width="137" height="25"/><text x="1096.5" y="1254.5">ctrump_member_ref</text></g>
<g class="node" id="ctrump_call_expr"><rect x="1036" y="1316" width="120" height="26"/><text x="1096" y="1334">ctrump_call_expr</text></g>
<g class="node" id="ctrump_cond_expr"><rect x="1033" y="1442" width="128" height="26"/><text x="1097" y="1460">ctrump_cond_expr</text></g>
<g class="node" id="ctrump_paren_expr"><rect x="1031" y="1601" width="132" height="27"/><text x="1097" y="1619.5">ctrump_paren_expr</text></g>
<g class="node" id="ctrump_unary_expr"><rect x="1031" y="1655" width="132" height="26"/><text x="1097" y="1673">ctrump_unary_expr</text></g>
<g class="node red" id="ctrump_loop_cfg_info"><rect x="1797" y="1573" width="146" height="27"/><text x="1870" y="1591.5">ctrump_loop_cfg_info</text></g>
<g class="node" id="ctrump_for_stmt"><rect x="2067" y="1573" width="117" height="27"/><text x="2125.5" y="1591.5">ctrump_for_stmt</text></g>
<g class="node" id="ctrump_case_stmt"><rect x="1805" y="1697" width="130" height="27"/><text x="1870" y="1715.5">ctrump_case_stmt</text></g>
<g class="node" id="ctrump_do_while_stmt"><rect x="1793" y="1837" width="153" height="27"/><text x="1869.5" y="1855.5">ctrump_do_while_stmt</text></g>
<g class="node" id="ctrump_switch_stmt"><rect x="1800" y="1909" width="138" height="27"/><text x="1869" y="1927.5">ctrump_switch_stmt</text></g>
<g class="node" id="ctrump_while_stmt"><rect x="2059" y="2022" width="132" height="26"/><text x="2125" y="2040">ctrump_while_stmt</text></g>
<g class="node" id="ctrump_stmt"><rect x="1584" y="2258" width="94" height="28"/><text x="1631" y="2277">ctrump_stmt</text></g>
<g class="node" id="ctrump_compound_stmt"><rect x="1789" y="2259" width="162" height="27"/><text x="1870" y="2277.5">ctrump_compound_stmt</text></g>
<g class="node" id="ctrump_return_expr_stmt"><rect x="1013" y="2213" width="167" height="25"/><text x="1096.5" y="2230.5">ctrump_return_expr_stmt</text></g>
<g class="node" id="ctrump_expr_stmt"><rect x="1034" y="2262" width="126" height="27"/><text x="1097" y="2280.5">ctrump_expr_stmt</text></g>
<g class="node" id="ctrump_return_stmt"><rect x="1216" y="2309" width="133" height="25"/><text x="1282.5" y="2326.5">ctrump_return_stmt</text></g>
<g class="node" id="ctrump_empty_stmt"><rect x="835" y="2365" width="137" height="25"/><text x="903.5" y="2382.5">ctrump_empty_stmt</text></g>
<g class="node" id="ctrump_stmt_list"><rect x="1810" y="2410" width="120" height="27"/><text x="1870" y="2428.5">ctrump_stmt_list</text></g>
<g class="node" id="ctrump_if_stmt"><rect x="1816" y="2521" width="109" height="27"/><text x="1870.5" y="2539.5">ctrump_if_stmt</text></g>
<g class="node" id="ctrump_labeled_stmt"><rect x="1799" y="2676" width="143" height="26"/><text x="1870.5" y="2694">ctrump_labeled_stmt</text></g>
<g class="node" id="ctrump_default_stmt"><rect x="1800" y="2765" width="141" height="27"/><text x="1870.5" y="2783.5">ctrump_default_stmt</text></g>
<g class="node" id="ctrump_if_else_stmt"><rect x="1800" y="2972" width="141" height="26"/><text x="1870.5" y="2990">ctrump_if_else_stmt</text></g>
<g class="node" id="ctrump_for_decl_stmt"><rect x="2051" y="2948" width="149" height="26"/><text x="2125.5" y="2966">ctrump_for_decl_stmt</text></g>
<g class="node" id="ctrump_break_stmt"><rect x="512" y="2422" width="134" height="26"/><text x="579" y="2440">ctrump_break_stmt</text></g>
<g class="node" id="ctrump_symbol"><rect x="692" y="2506" width="111" height="27"/><text x="747.5" y="2524.5">ctrump_symbol</text></g>
<g class="node" id="ctrump_decl"><rect x="701" y="2724" width="93" height="26"/><text x="747.5" y="2742">ctrump_decl</text></g>
<g class="node red" id="ctrump_decl_specifier"><rect x="313" y="2724" width="147" height="26"/><text x="386.5" y="2742">ctrump_decl_specifier</text></g>
<g class="node red" id="ctrump_decl_with_init"><rect x="313" y="2774" width="146" height="27"/><text x="386" y="2792.5">ctrump_decl_with_init</text></g>
<g class="node" id="ctrump_goto_stmt"><rect x="1034" y="2479" width="127" height="26"/><text x="1097.5" y="2497">ctrump_goto_stmt</text></g>
<g class="node" id="ctrump_continue_stmt"><rect x="828" y="2598" width="152" height="27"/><text x="904" y="2616.5">ctrump_continue_stmt</text></g>
<g class="node" id="ctrump_location"><rect x="23" y="2186" width="113" height="26"/><text x="79.5" y="2204">ctrump_location</text></g>
</g>
</svg>
